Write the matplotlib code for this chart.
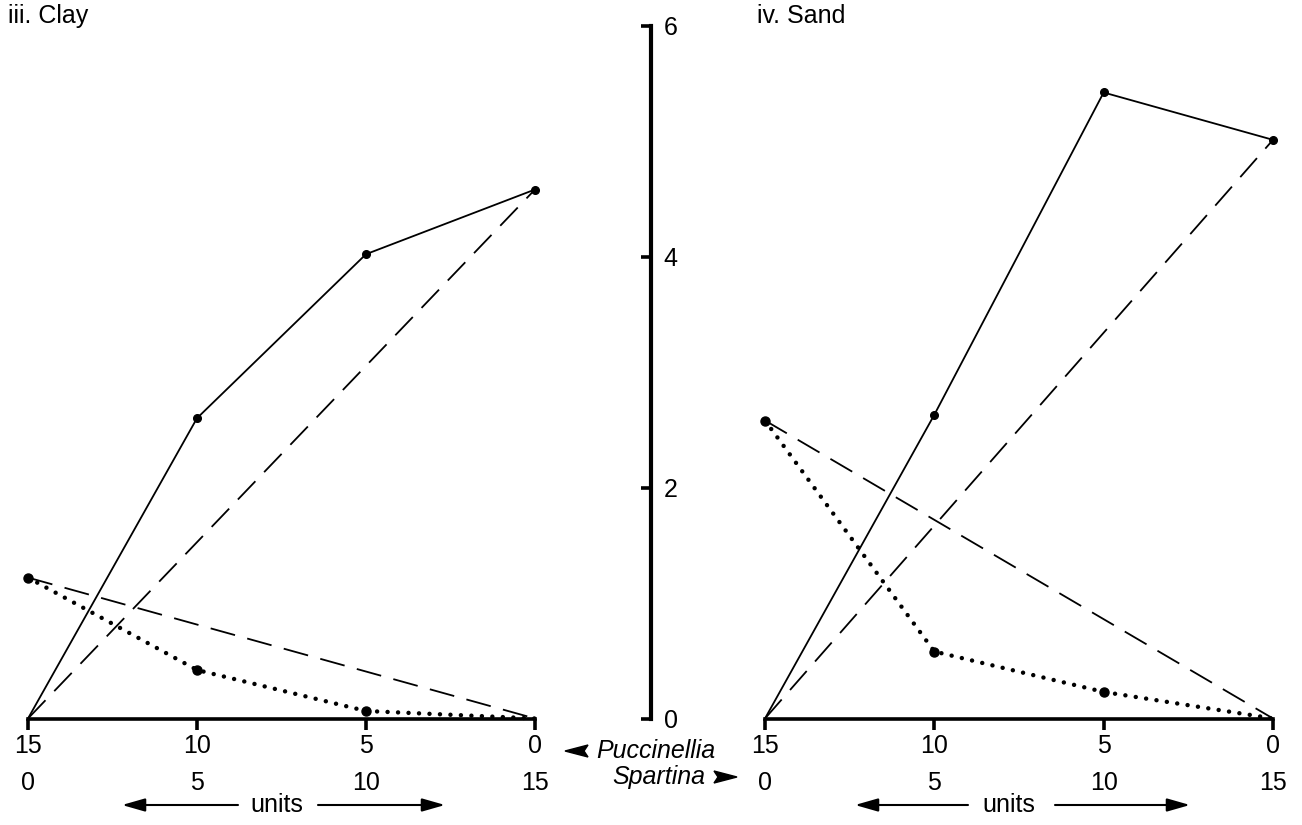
import numpy as np
import matplotlib
matplotlib.use('Agg')
import matplotlib.pyplot as plt
from matplotlib.patches import FancyArrowPatch, Polygon
from matplotlib.transforms import offset_copy

plt.rcParams['font.family'] = ['Liberation Sans', 'DejaVu Sans']

# === Data (replacement series, 15 plants per pot) ===
spartina = [0, 5, 10, 15]
puccinellia = [15, 10, 5, 0]

clay_spartina = [0, 2.60, 4.02, 4.58]
clay_puccinellia = [1.22, 0.42, 0.065, 0]

sand_spartina = [0, 2.63, 5.42, 5.01]
sand_puccinellia = [2.58, 0.58, 0.23, 0]

y_ticks = [0, 2, 4, 6]

# === Layout (pixels of a 1302x825 canvas) ===
W, H = 1302, 825
Y0, Y6 = 718.5, 25.5
BOTTOM = (H - Y0) / H
HEIGHT = (Y0 - Y6) / H
FS = 18
LW_AX = 2.6
LW = 1.3


def px(x, y):
    """pixel position (from top-left) -> figure fraction"""
    return (x / W, 1 - y / H)


def draw_panel(ax, spa_obs, puc_obs):
    ax.set_xlim(0, 15)
    ax.set_ylim(0, 6)
    for s in ['top', 'right', 'left']:
        ax.spines[s].set_visible(False)
    ax.spines['bottom'].set_linewidth(LW_AX)
    ax.set_yticks([])
    ax.set_xticks(spartina)
    ax.set_xticklabels([str(p) for p in puccinellia], fontsize=FS)
    ax.tick_params(axis='x', direction='out', length=8, width=LW_AX, pad=3)

    # second row of tick labels (Spartina)
    tr = offset_copy(ax.get_xaxis_transform(), fig=ax.figure, y=-64, units='dots')
    for x in spartina:
        ax.text(x, 0, str(x), transform=tr, ha='center', va='center', fontsize=FS)

    # expected (monoculture) lines
    ax.plot([spartina[0], spartina[-1]], [0, spa_obs[-1]], color='black', lw=LW,
            linestyle=(0, (14, 7)), clip_on=False)
    ax.plot([spartina[0], spartina[-1]], [puc_obs[0], 0], color='black', lw=LW,
            linestyle=(0, (14, 7)), clip_on=False)

    # observed Spartina: solid
    ax.plot(spartina, spa_obs, color='black', lw=LW, clip_on=False)
    ax.plot(spartina[1:], spa_obs[1:], 'o', color='black', ms=5.5, clip_on=False)

    # observed Puccinellia: dotted
    ax.plot(spartina, puc_obs, color='black', lw=3.2, linestyle=(0, (0.01, 2.35)),
            dash_capstyle='round', clip_on=False)
    ax.plot(spartina[:-1], puc_obs[:-1], 'o', color='black', ms=6.5, clip_on=False)


fig = plt.figure(figsize=(W / 100, H / 100), dpi=100)

ax_l = fig.add_axes([28 / W, BOTTOM, 507 / W, HEIGHT])
ax_r = fig.add_axes([765 / W, BOTTOM, 508 / W, HEIGHT])
draw_panel(ax_l, clay_spartina, clay_puccinellia)
draw_panel(ax_r, sand_spartina, sand_puccinellia)

# central shared y axis
ax_c = fig.add_axes([651 / W, BOTTOM, 0.0001, HEIGHT])
ax_c.set_ylim(0, 6)
ax_c.set_xticks([])
for s in ['top', 'right', 'bottom']:
    ax_c.spines[s].set_visible(False)
ax_c.spines['left'].set_linewidth(LW_AX + 0.4)
ax_c.set_yticks(y_ticks)
ax_c.set_yticklabels([str(t) for t in y_ticks], fontsize=FS)
ax_c.tick_params(axis='y', left=True, right=False, labelleft=False, labelright=True,
                 direction='out', length=7, width=LW_AX, pad=2)

# titles
fig.text(*px(8, 16), 'iii. Clay', fontsize=FS, va='center', ha='left')
fig.text(*px(757, 16), 'iv. Sand', fontsize=FS, va='center', ha='left')

# species labels in the middle
fig.text(*px(596, 751), 'Puccinellia', fontsize=FS, style='italic',
         va='center', ha='left')
fig.text(*px(705, 777), 'Spartina', fontsize=FS, style='italic',
         va='center', ha='right')
fig.add_artist(Polygon([px(565, 751), px(588, 745), px(584, 751), px(588, 757)],
                       closed=True, transform=fig.transFigure, color='black'))
fig.add_artist(Polygon([px(737, 777), px(714, 771), px(718, 777), px(714, 783)],
                       closed=True, transform=fig.transFigure, color='black'))

# "units" arrows: (left tip, left tail, text centre, right tail, right tip)
yy = 805
for xa, xb, xt, xc, xd in [(122, 238, 277, 318, 445), (855, 968, 1009, 1055, 1190)]:
    fig.text(*px(xt, yy), 'units', fontsize=FS, ha='center', va='center')
    for tail, tip in [(xb, xa), (xc, xd)]:
        fig.add_artist(FancyArrowPatch(
            px(tail, yy), px(tip, yy), transform=fig.transFigure,
            arrowstyle='-|>,head_length=14,head_width=4', mutation_scale=1,
            shrinkA=0, shrinkB=0, lw=1.5, color='black'))

fig.savefig('out.png', dpi=100, facecolor='white')
